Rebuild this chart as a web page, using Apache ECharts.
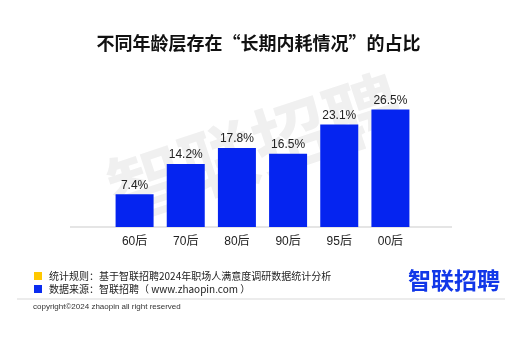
<!DOCTYPE html>
<html>
<head>
<meta charset="utf-8">
<script src="https://cdn.jsdelivr.net/npm/echarts@6/dist/echarts.min.js"></script>
<style>
  html, body { margin: 0; padding: 0; background: #fff; }
  #main { width: 517px; height: 351px; }
</style>
</head>
<body>
<div id="main"></div>
<script>
// 数据
var categories = ['60后', '70后', '80后', '90后', '95后', '00后'];
var values = [7.4, 14.2, 17.8, 16.5, 23.1, 26.5];
var notes = ['统计规则：基于智联招聘2024年职场人满意度调研数据统计分析', '数据来源：智联招聘（ www.zhaopin.com ）'];

var font = '"Liberation Sans", Arial, "Noto Sans CJK SC", sans-serif';
var cjk = '"Noto Sans CJK SC", sans-serif';
var chart = echarts.init(document.getElementById('main'));

chart.setOption({
    backgroundColor: '#fff',
    animation: false,
    title: {
        text: '不同年龄层存在“长期内耗情况”的占比',
        left: 'center',
        top: 29,
        textStyle: { fontSize: 18, fontWeight: 'bold', color: '#111', fontFamily: cjk }
    },
    grid: { left: 109, right: 101, top: 94, bottom: 124 },
    xAxis: {
        type: 'category',
        data: categories,
        axisLine: { show: false },
        axisTick: { show: false },
        axisLabel: { color: '#222', fontSize: 12, margin: 9, fontFamily: font }
    },
    yAxis: {
        type: 'value',
        min: 0,
        max: 30,
        show: false
    },
    graphic: [
        // 水印
        {
            type: 'text', z: -10, x: 255, y: 148, rotation: 0.32,
            style: {
                text: '智联招聘', fill: '#f0f0f0', fontSize: 76, fontWeight: 'bold',
                fontFamily: cjk, align: 'center', verticalAlign: 'middle'
            }
        },
        // 轴线
        { type: 'line', shape: { x1: 70, y1: 227, x2: 452, y2: 227 }, style: { stroke: '#dddddd', lineWidth: 1.5 } },
        { type: 'rect', shape: { x: 34, y: 272, width: 8, height: 8 }, style: { fill: '#ffc800' } },
        { type: 'rect', shape: { x: 34, y: 285, width: 8, height: 8 }, style: { fill: '#0a2cf0' } },
        {
            type: 'text', x: 49, y: 276,
            style: { text: notes[0], fill: '#222', fontSize: 10, fontFamily: cjk, verticalAlign: 'middle' }
        },
        {
            type: 'text', x: 49, y: 289,
            style: { text: notes[1], fill: '#222', fontSize: 10, fontFamily: cjk, verticalAlign: 'middle' }
        },
        { type: 'line', shape: { x1: 17, y1: 299, x2: 505, y2: 299 }, style: { stroke: '#e6e6e6', lineWidth: 1.5 } },
        {
            type: 'text', x: 33, y: 307,
            style: { text: 'copyright©2024 zhaopin all right reserved', fill: '#333', fontSize: 8, fontFamily: font, verticalAlign: 'middle' }
        },
        {
            type: 'text', x: 454, y: 280,
            style: {
                text: '智联招聘', fill: '#1238e8', fontSize: 23, fontWeight: 'bold',
                fontFamily: cjk, align: 'center', verticalAlign: 'middle'
            }
        }
    ],
    series: [{
        type: 'bar',
        data: values,
        barWidth: 38,
        itemStyle: { color: '#0524f0' },
        label: {
            show: true,
            position: 'top',
            distance: 3,
            formatter: '{c}%',
            color: '#222',
            fontSize: 12,
            fontFamily: font
        }
    }]
});
</script>
</body>
</html>
